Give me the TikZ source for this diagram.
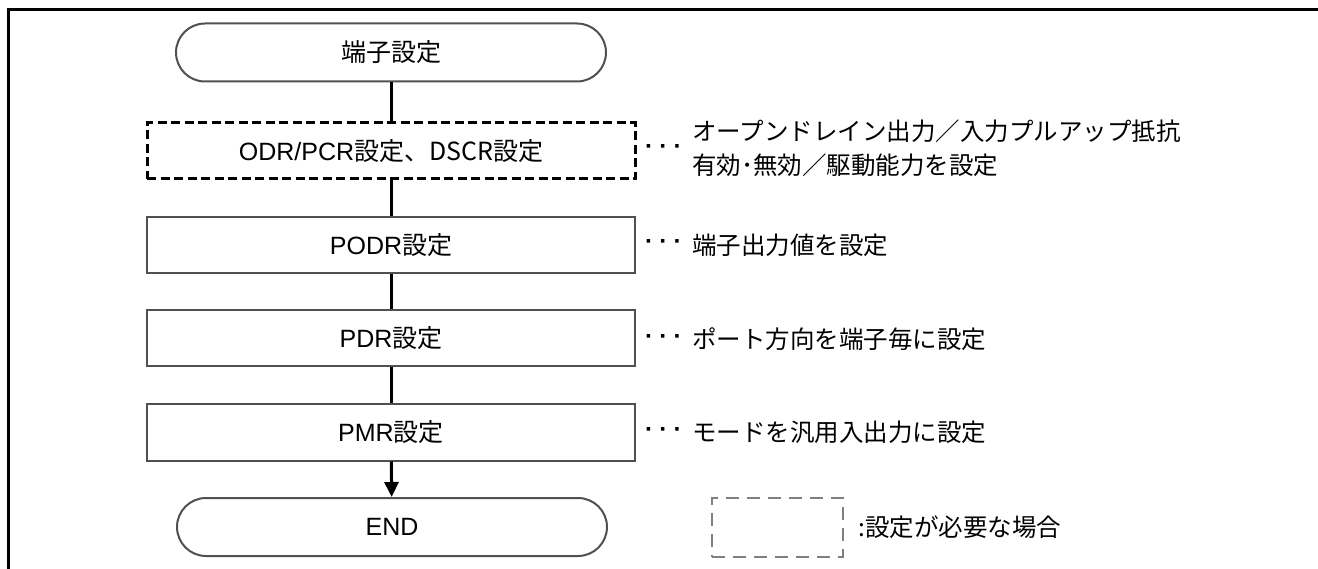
\documentclass[tikz,border=0pt]{standalone}
\usepackage{fontspec}
\setmainfont{Liberation Sans}
\newfontfamily\jp{Noto Sans CJK JP}
\usetikzlibrary{arrows.meta}
\definecolor{boxgray}{HTML}{505050}
\definecolor{leggray}{HTML}{808080}
\newcommand{\tridots}{\textbf{·}\hspace{6pt}\textbf{·}\hspace{6pt}\textbf{·}}
\tikzset{
  term/.style={draw=boxgray, line width=2pt, rounded corners=29pt, minimum width=430pt, minimum height=58pt, inner sep=0pt, font=\fontsize{25}{30}\selectfont},
  procbox/.style={draw=boxgray, line width=2pt, minimum width=488pt, minimum height=56pt, inner sep=0pt, font=\fontsize{25}{30}\selectfont},
  optbox/.style={draw=black, line width=3pt, dash pattern=on 9pt off 4.5pt, minimum width=488pt, minimum height=56pt, inner sep=0pt, font=\fontsize{25}{30}\selectfont},
  conn/.style={draw=black, line width=3pt},
  note/.style={anchor=west, inner sep=0pt, font=\jp\fontsize{24.5}{34}\selectfont, align=left},
  dots/.style={anchor=west, inner sep=0pt, font=\fontsize{24.5}{30}\selectfont},
}
\begin{document}
\begin{tikzpicture}[x=1pt,y=-1pt]
\useasboundingbox (0,0) rectangle (1318,569);
% frame
\draw[line width=3pt] (8,569) -- (8,10) -- (1318,10);
% flow nodes
\node[term] (start) at (391,52.5) {\jp 端子設定};
\node[optbox] (odr) at (391,151) {ODR/PCR{\jp 設定、DSCR設定}};
\node[procbox] (podr) at (391,245) {PODR{\jp 設定}};
\node[procbox] (pdr) at (391,338.5) {PDR{\jp 設定}};
\node[procbox] (pmr) at (391,432.5) {PMR{\jp 設定}};
\node[term] (end) at (392,527) {END};
% connectors
\draw[conn] (start) -- (odr);
\draw[conn] (odr) -- (podr);
\draw[conn] (podr) -- (pdr);
\draw[conn] (pdr) -- (pmr);
\draw[conn,-{Triangle[length=15pt,width=14pt]}] (pmr) -- (end);
% annotations
\node[dots] (d1) at (645,150) {\tridots};
\node[dots] (d2) at (645,245) {\tridots};
\node[dots] (d3) at (645,339) {\tridots};
\node[dots] (d4) at (645,432) {\tridots};
\node[note] (n1) at (692,148) {オープンドレイン出力／入力プルアップ抵抗\\有効･無効／駆動能力を設定};
\node[note] (n2) at (692,245) {端子出力値を設定};
\node[note] (n3) at (692,339) {ポート方向を端子毎に設定};
\node[note] (n4) at (692,432) {モードを汎用入出力に設定};
% legend
\node[draw=leggray, line width=2.5pt, dash pattern=on 13pt off 8pt, minimum width=131pt, minimum height=59pt, inner sep=0pt] (leg) at (777.5,527.5) {};
\node[note] (legtext) at (858,527) {:設定が必要な場合};
\end{tikzpicture}
\end{document}
